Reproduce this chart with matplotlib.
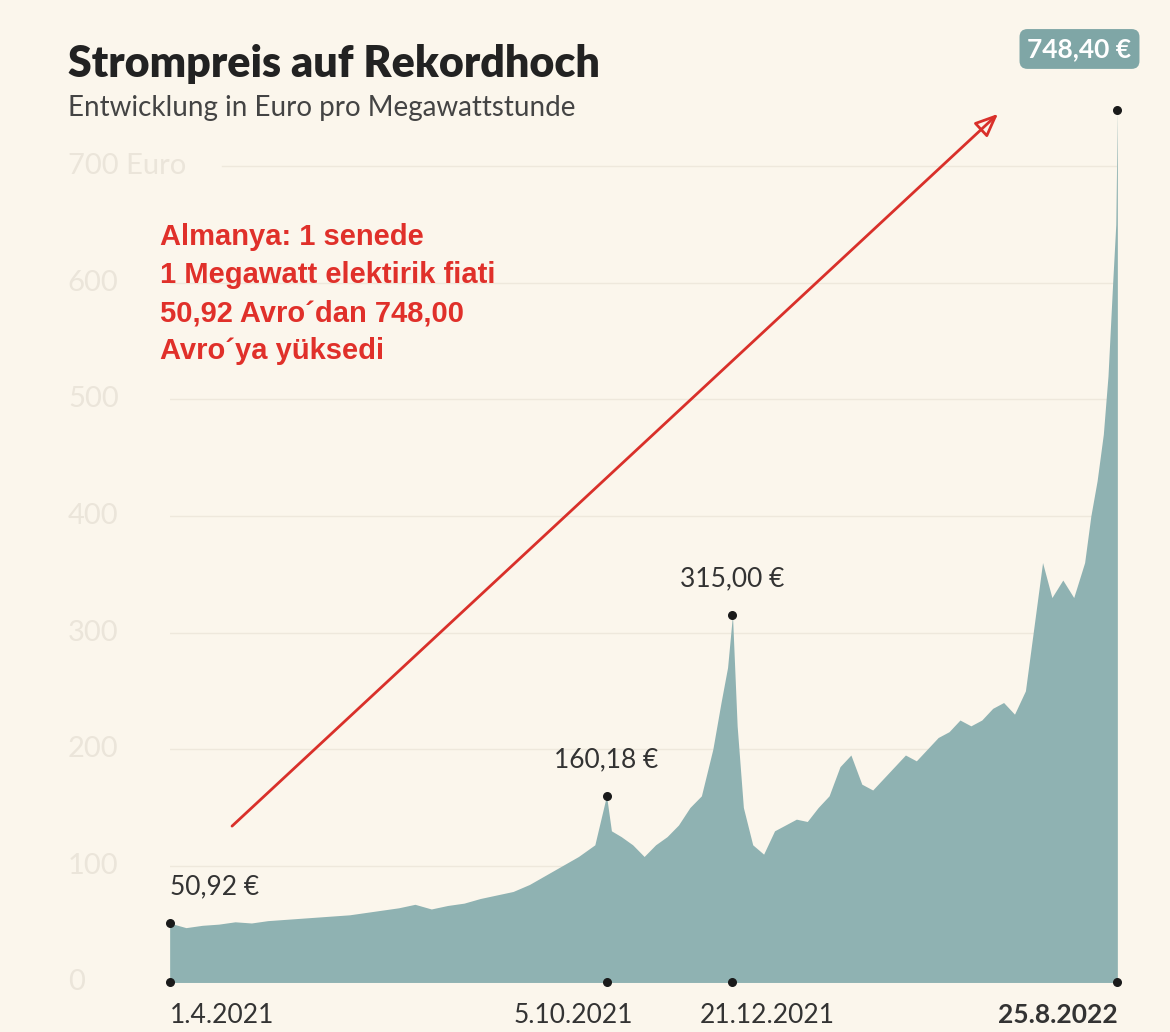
import numpy as np
import pandas as pd
import matplotlib.pyplot as plt
from matplotlib.patches import FancyArrowPatch
from matplotlib.transforms import blended_transform_factory

# approximate price readings (Euro / MWh)
dates = pd.to_datetime([
    "2021-04-01", "2021-04-08", "2021-04-15", "2021-04-22", "2021-04-29", "2021-05-06",
    "2021-05-13", "2021-05-20", "2021-05-27", "2021-06-03", "2021-06-10", "2021-06-17",
    "2021-06-24", "2021-07-01", "2021-07-08", "2021-07-15", "2021-07-22", "2021-07-29",
    "2021-08-05", "2021-08-12", "2021-08-19", "2021-08-26", "2021-09-02", "2021-09-09",
    "2021-09-16", "2021-09-23", "2021-09-30", "2021-10-05", "2021-10-08", "2021-10-14",
    "2021-10-21", "2021-10-28", "2021-11-04", "2021-11-11", "2021-11-18", "2021-11-25",
    "2021-12-02", "2021-12-09", "2021-12-14", "2021-12-18", "2021-12-21", "2021-12-24",
    "2021-12-28", "2022-01-03", "2022-01-10", "2022-01-17", "2022-01-24", "2022-01-31",
    "2022-02-07", "2022-02-14", "2022-02-21", "2022-02-28", "2022-03-07", "2022-03-14",
    "2022-03-21", "2022-03-28", "2022-04-04", "2022-04-11", "2022-04-18", "2022-04-25",
    "2022-05-02", "2022-05-09", "2022-05-16", "2022-05-23", "2022-05-30", "2022-06-06",
    "2022-06-13", "2022-06-20", "2022-06-27", "2022-07-04", "2022-07-08", "2022-07-14",
    "2022-07-21", "2022-07-28", "2022-08-04", "2022-08-08", "2022-08-12", "2022-08-16",
    "2022-08-19", "2022-08-22", "2022-08-24", "2022-08-25",
])
prices = [
    50.92, 47, 49, 50, 52, 51,
    53, 54, 55, 56, 57, 58,
    60, 62, 64, 67, 63, 66,
    68, 72, 75, 78, 84, 92,
    100, 108, 118, 160.18, 130, 125,
    118, 108, 118, 125, 135, 150,
    160, 200, 240, 270, 315.0, 220,
    150, 118, 110, 130, 135, 140,
    138, 150, 160, 185, 195, 170,
    165, 175, 185, 195, 190, 200,
    210, 215, 225, 220, 225, 235,
    240, 230, 250, 320, 360, 330,
    345, 330, 360, 400, 430, 470,
    520, 600, 650, 748.40,
]

marks = ["2021-04-01", "2021-10-05", "2021-12-21", "2022-08-25"]
mark_labels = ["1.4.2021", "5.10.2021", "21.12.2021", "25.8.2022"]
mark_values = [50.92, 160.18, 315.0, 748.40]
yticks = [0, 100, 200, 300, 400, 500, 600, 700]

bg = "#fbf6ec"
fill = "#8fb2b2"
plt.rcParams['font.family'] = ['Lato', 'DejaVu Sans']

# the source chart's time axis is not uniform: place the labelled dates where it shows them
md = pd.to_datetime(marks)
anchor_days = (md - md[0]).days.values
anchor_pos = [0.0, 437 / 948, 563 / 948, 1.0]


def xpos(d):
    return np.interp((pd.DatetimeIndex(d) - md[0]).days.values, anchor_days, anchor_pos)


fig = plt.figure(figsize=(11.7, 10.32), dpi=100, facecolor=bg)
ax = fig.add_axes([0.145, 0.048, 0.81, 0.859], facecolor=bg)
ax.fill_between(xpos(dates), prices, color=fill, lw=0)
ax.set_xlim(0, 1)
ax.set_ylim(0, 760)
for s in ax.spines.values():
    s.set_visible(False)
ax.set_xticks([])
ax.set_yticks([])
ylab_tr = blended_transform_factory(fig.transFigure, ax.transData)
for v in yticks:
    ax.axhline(v, xmin=0.055 if v == 700 else 0, color="#eee8dc", lw=1, zorder=0)
    lab = "700 Euro" if v == 700 else str(v)
    ax.text(0.058, v, lab, transform=ylab_tr, ha="left", va="center", fontsize=21, color="#ebe5da")

mx = xpos(md)
ax.scatter(mx, [0] * 4, s=30, color="#1a1a1a", zorder=5, clip_on=False)
ax.scatter(mx, mark_values, s=30, color="#1a1a1a", zorder=5, clip_on=False)
label_shift = [0, -0.035, 0.037, 0]
for i, (x, lab) in enumerate(zip(mx, mark_labels)):
    ha = "left" if i == 0 else ("right" if i == 3 else "center")
    ax.text(x + label_shift[i], -18, lab, ha=ha, va="top", fontsize=19, color="#333333",
            fontweight="bold" if i == 3 else "normal", clip_on=False)
val_text = ["50,92 €", "160,18 €", "315,00 €"]
for i, (x, v, t) in enumerate(zip(mx[:3], mark_values[:3], val_text)):
    ax.text(x, v + 20, t, ha="left" if i == 0 else "center", va="bottom",
            fontsize=19, color="#333333")
ax.text(mx[3] + 0.015, 790, "748,40 €", ha="right", va="bottom", fontsize=19, color="white",
        fontweight="bold", clip_on=False,
        bbox=dict(boxstyle="round,pad=0.3", fc="#7fa6a6", ec="none"))

fig.text(0.058, 0.925, "Strompreis auf Rekordhoch", fontsize=31, fontweight="heavy", color="#222222")
fig.text(0.058, 0.888, "Entwicklung in Euro pro Megawattstunde", fontsize=20, color="#444444")

fig.text(0.137, 0.652, "Almanya: 1 senede\n1 Megawatt elektirik fiati\n50,92 Avro´dan 748,00\nAvro´ya yüksedi",
         fontsize=21, fontweight="bold", color="#e0302a", linespacing=1.45,
         fontfamily="Liberation Sans")
fig.patches.append(FancyArrowPatch(
    (230 / 1170, 1 - 828 / 1032), (1000 / 1170, 1 - 112 / 1032), transform=fig.transFigure,
    arrowstyle="-|>,head_width=6,head_length=14", color="#d9302a", lw=2, fill=False))

fig.savefig("out.png", dpi=100, facecolor=bg)
